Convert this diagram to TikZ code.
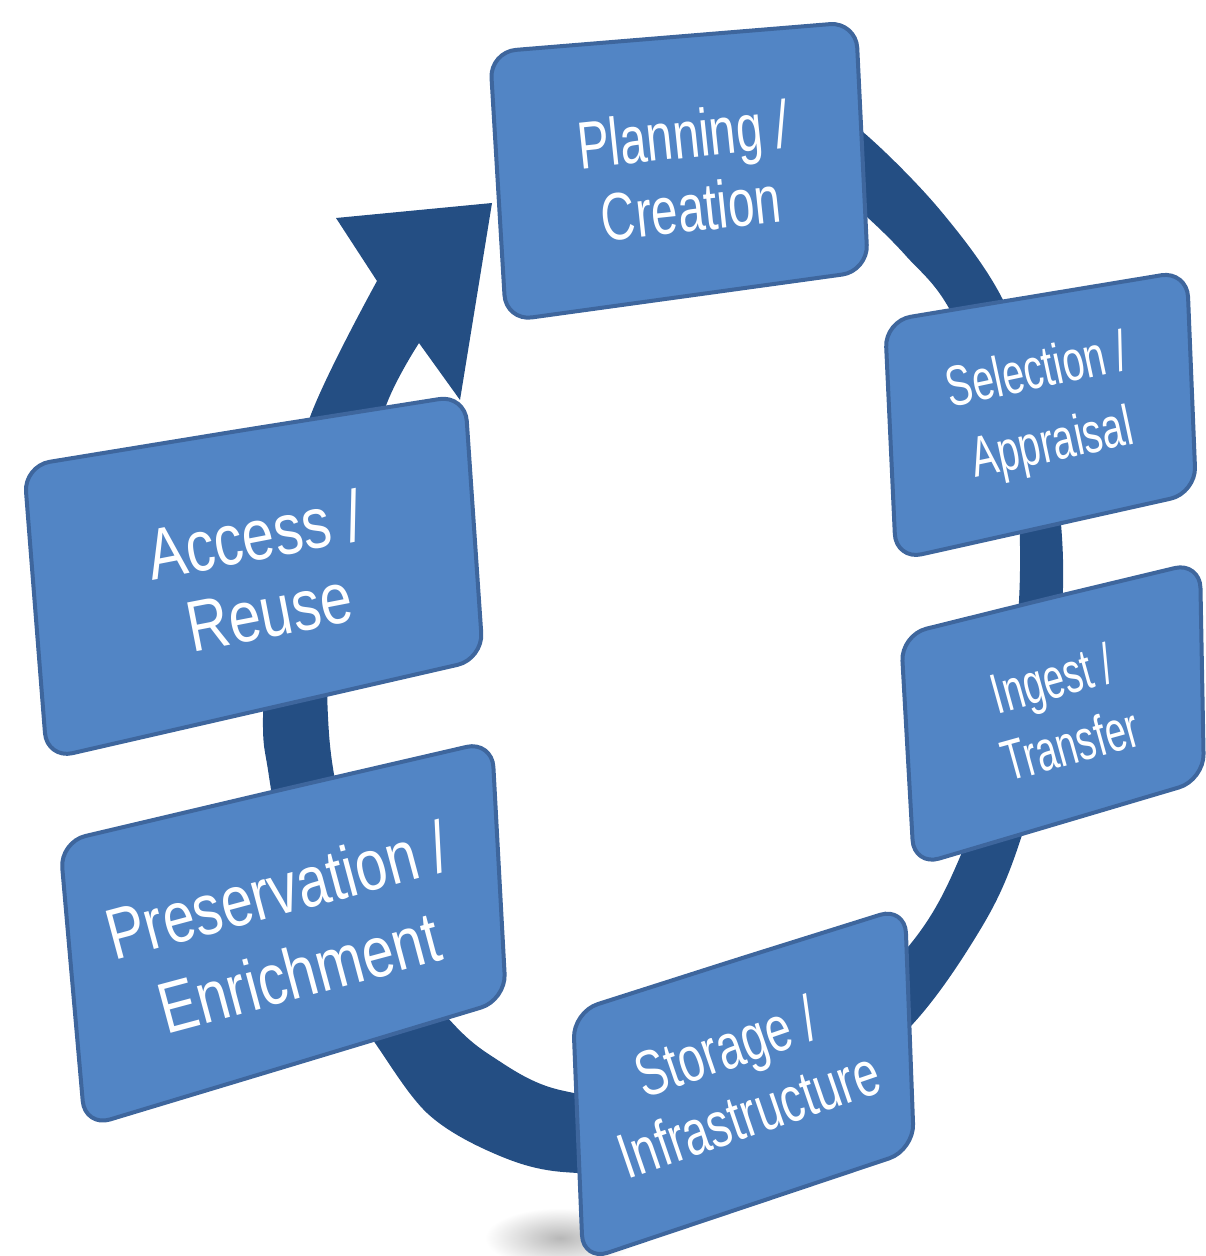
\documentclass[tikz,border=0pt]{standalone}
\usepackage{fontspec}
\setmainfont{Liberation Sans}
\definecolor{boxfill}{RGB}{82,133,197}
\definecolor{boxline}{RGB}{62,102,157}
\definecolor{ringc}{RGB}{36,78,131}
\begin{document}
\begin{tikzpicture}[x=0.5pt,y=-0.5pt,
  box/.style={fill=boxfill, draw=boxline, line width=2pt, rounded corners=13pt},
  lbl/.style={text=white, align=center, inner sep=0pt}]
\useasboundingbox (0,0) rectangle (1205,1256);
% cycle ring with arrowhead
\fill[ringc] plot[smooth, tension=0.55] coordinates {(800,90) (863,132) (940,210) (1003,300) (1045,420) (1063,560) (1052,720) (1017,850) (980,930) (910,1027) (800,1120) (680,1168) (563,1172) (493,1153) (427,1113) (373,1040) (320,960) (285,860) (268,770) (263,717) (270,570) (310,417) (377,281)}
  -- (336,218) -- (492,203) -- (460,400)
  -- plot[smooth, tension=0.55] coordinates {(419,343) (387,403) (350,520) (330,650) (328,717) (337,790) (370,920) (447,1017) (493,1057) (560,1090) (680,1100) (800,1050) (908,947) (960,857) (1005,720) (1020,570) (1008,440) (950,310) (907,257) (867,217) (820,178)}
  -- cycle;
% soft shadow
\shade[inner color=black!28, outer color=white] (560,1238) ellipse [x radius=75, y radius=30];
% boxes
\draw[box] (673,37) -- (856,22) -- (868,271) -- (506,321) -- (490,52) -- cycle;
\draw[box] (1036,296) -- (1187,271) -- (1196,493) -- (896,560) -- (885,321) -- cycle;
\draw[box] (1050,598) -- (1200,562) -- (1204,780) -- (914,866) -- (901,635) -- cycle;
\draw[box] (739,959) -- (905,907) -- (914,1150) -- (583,1261) -- (573,1012) -- cycle;
\draw[box] (276,791) -- (492,741) -- (506,1000) -- (85,1127) -- (60,842) -- cycle;
\draw[box] (244,430) -- (465,395) -- (483,659) -- (47,759) -- (24,466) -- cycle;
% labels
\node[lbl, font=\fontsize{33.5}{37}\selectfont, rotate=6, xscale=0.71] (plan) at (687,171) {Planning /\\Creation};
\node[lbl, font=\fontsize{28.5}{37}\selectfont, rotate=12, xscale=0.69] (sel) at (1045,410) {Selection /\\Appraisal};
\node[lbl, font=\fontsize{28.5}{34}\selectfont, rotate=15.5, xscale=0.66] (ing) at (1061,711) {Ingest /\\Transfer};
\node[lbl, font=\fontsize{32}{35.5}\selectfont, rotate=19, xscale=0.72] (sto) at (737,1080) {Storage /\\Infrastructure};
\node[lbl, font=\fontsize{36}{42.5}\selectfont, rotate=15, xscale=0.79] (pre) at (288,931) {Preservation /\\Enrichment};
\node[lbl, font=\fontsize{36}{39}\selectfont, rotate=11, xscale=0.8] (acc) at (262,573) {Access /\\Reuse};
\end{tikzpicture}
\end{document}
